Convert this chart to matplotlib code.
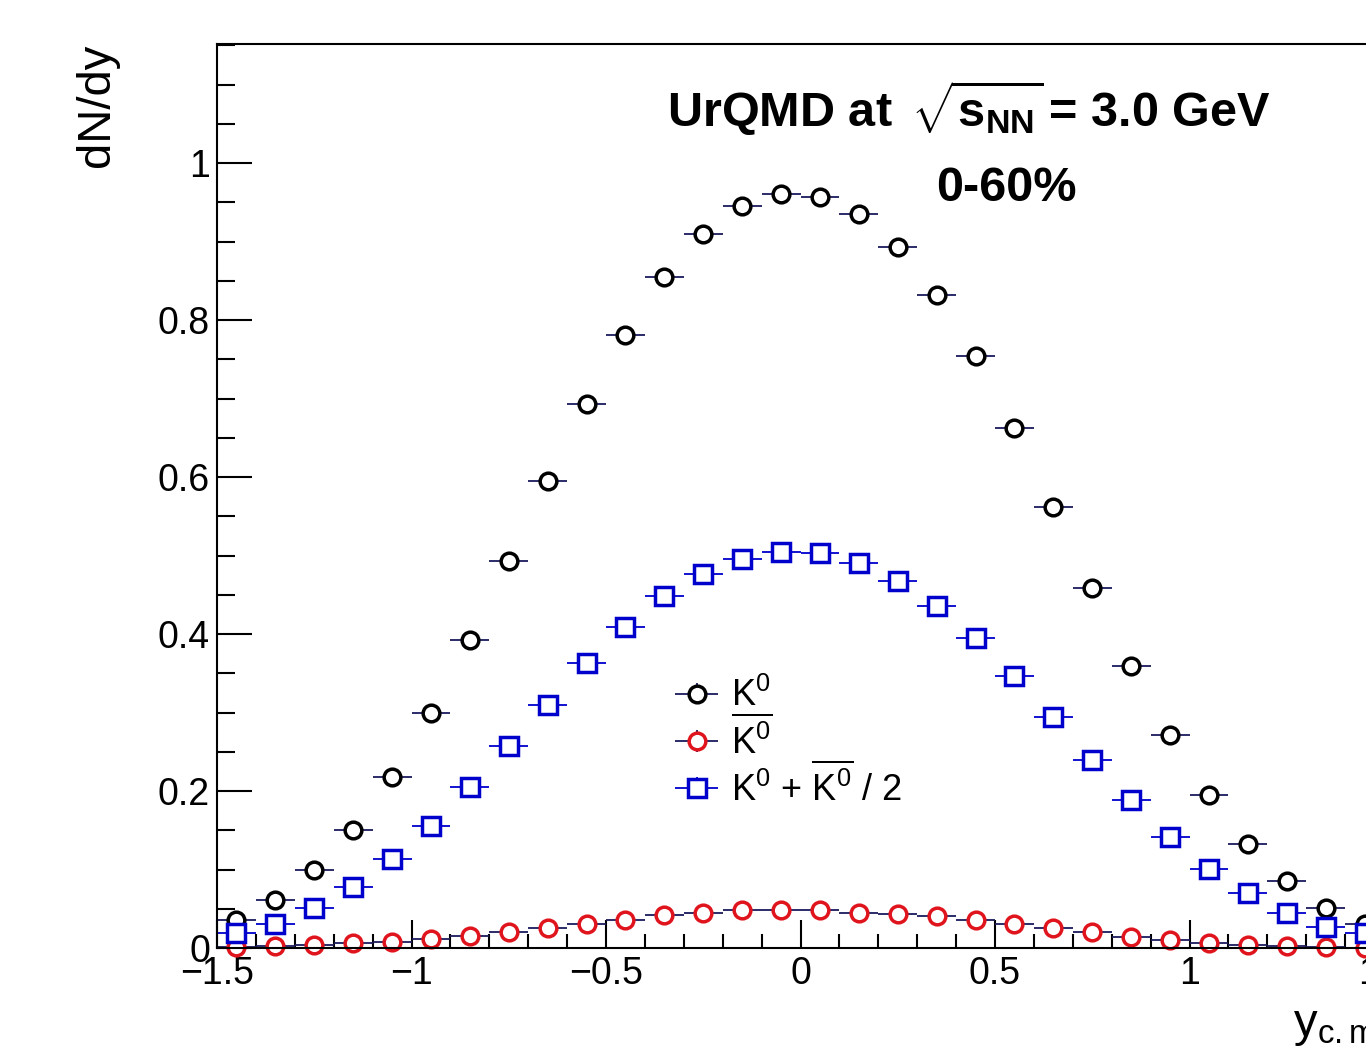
import numpy as np
import matplotlib
matplotlib.use("Agg")
import matplotlib.pyplot as plt
from matplotlib.ticker import MultipleLocator
from matplotlib.legend_handler import HandlerErrorbar

plt.rcParams['font.family'] = ['Liberation Sans', 'DejaVu Sans']
plt.rcParams['mathtext.fontset'] = 'custom'
plt.rcParams['mathtext.rm'] = 'Liberation Sans'
plt.rcParams['mathtext.it'] = 'Liberation Sans:italic'
plt.rcParams['mathtext.bf'] = 'Liberation Sans:bold'

# rapidity bin centres (bin width 0.1)
y_cm = [-1.45, -1.35, -1.25, -1.15, -1.05, -0.95, -0.85, -0.75, -0.65, -0.55,
        -0.45, -0.35, -0.25, -0.15, -0.05, 0.05, 0.15, 0.25, 0.35, 0.45,
        0.55, 0.65, 0.75, 0.85, 0.95, 1.05, 1.15, 1.25, 1.35, 1.45]
bin_half = 0.05

k0 = [0.036, 0.061, 0.099, 0.150, 0.218, 0.300, 0.392, 0.493, 0.595, 0.693,
      0.781, 0.855, 0.910, 0.945, 0.961, 0.957, 0.935, 0.893, 0.832, 0.754,
      0.662, 0.562, 0.458, 0.359, 0.271, 0.195, 0.132, 0.085, 0.051, 0.031]
k0bar = [0.001, 0.0025, 0.004, 0.006, 0.008, 0.012, 0.015, 0.021, 0.026, 0.031,
         0.036, 0.042, 0.045, 0.048, 0.049, 0.048, 0.045, 0.043, 0.041, 0.036,
         0.031, 0.025, 0.020, 0.014, 0.010, 0.007, 0.004, 0.002, 0.001, 0.0005]
k0_avg = [0.019, 0.031, 0.051, 0.078, 0.113, 0.156, 0.205, 0.257, 0.310, 0.363,
          0.409, 0.448, 0.477, 0.496, 0.505, 0.503, 0.491, 0.468, 0.436, 0.395,
          0.346, 0.294, 0.240, 0.188, 0.141, 0.101, 0.070, 0.044, 0.027, 0.019]

W, H = 1366, 1056
fig = plt.figure(figsize=(W / 100, H / 100), dpi=100)
ax = fig.add_axes([217 / W, 1 - 948 / H, (1384 - 217) / W, (948 - 44) / H])

series = [
    (k0, 'black', '#1a1a5e', 'o', r'$\mathrm{K}^{0}$'),
    (k0bar, '#e0141c', '#1a1a5e', 'o', r'$\overline{\mathrm{K}^{0}}$'),
    (k0_avg, '#0000cc', '#0000cc', 's', r'$\mathrm{K}^{0}$ + $\overline{\mathrm{K}^{0}}$ / 2'),
]
handles = []
for vals, col, ecol, mk, lab in series:
    eb = ax.errorbar(y_cm, vals, xerr=bin_half, yerr=np.zeros(len(vals)),
                     fmt=mk, color=col, ecolor=ecol, elinewidth=1.3,
                     mfc='white', mec=col, mew=2.5,
                     ms=12 if mk == 'o' else 12.5, clip_on=False, label=lab)
    handles.append(eb)

ax.set_xlim(-1.5, 1.5)
ax.set_ylim(0, 1.1516)

ax.xaxis.set_major_locator(MultipleLocator(0.5))
ax.xaxis.set_minor_locator(MultipleLocator(0.1))
ax.yaxis.set_major_locator(MultipleLocator(0.2))
ax.yaxis.set_minor_locator(MultipleLocator(0.05))
ax.xaxis.set_major_formatter(plt.FuncFormatter(lambda v, p: f'{v:g}'.replace('-', '\u2212')))
ax.yaxis.set_major_formatter(plt.FuncFormatter(lambda v, p: f'{v:g}'))

ax.tick_params(axis='both', which='both', direction='in', width=1.5,
               top=False, right=False, labelsize=27)
ax.tick_params(axis='y', which='major', length=25, pad=5)
ax.tick_params(axis='y', which='minor', length=13)
ax.tick_params(axis='x', which='major', length=20, pad=6)
ax.tick_params(axis='x', which='minor', length=10)
for sp in ax.spines.values():
    sp.set_linewidth(1.5)

fig.text(97 / W, 1 - 44 / H, 'dN/dy', rotation=90, ha='center', va='top', fontsize=34)
fig.text(1384 / W, 1 - 1036 / H, r'y$_{\mathrm{c.m.}}$', ha='right', va='baseline', fontsize=34)

fig.text(667 / W, 1 - 127 / H, r'UrQMD at $\,\sqrt{\mathbf{s_{NN}}}\,$= 3.0 GeV',
         fontsize=35, fontweight='bold', ha='left', va='baseline')
fig.text(1006 / W, 1 - 201 / H, '0-60%', fontsize=35, fontweight='bold',
         ha='center', va='baseline')

leg = fig.legend(handles=handles, loc='upper left',
                 bbox_to_anchor=(675 / W, 1 - 678 / H), frameon=False,
                 fontsize=26, numpoints=1, handlelength=1.2, handletextpad=0.35,
                 labelspacing=0.04, borderpad=0, borderaxespad=0,
                 handler_map={type(handles[0]): HandlerErrorbar(xerr_size=0.6, yerr_size=0.3)})

fig.savefig('out.png', dpi=100)
